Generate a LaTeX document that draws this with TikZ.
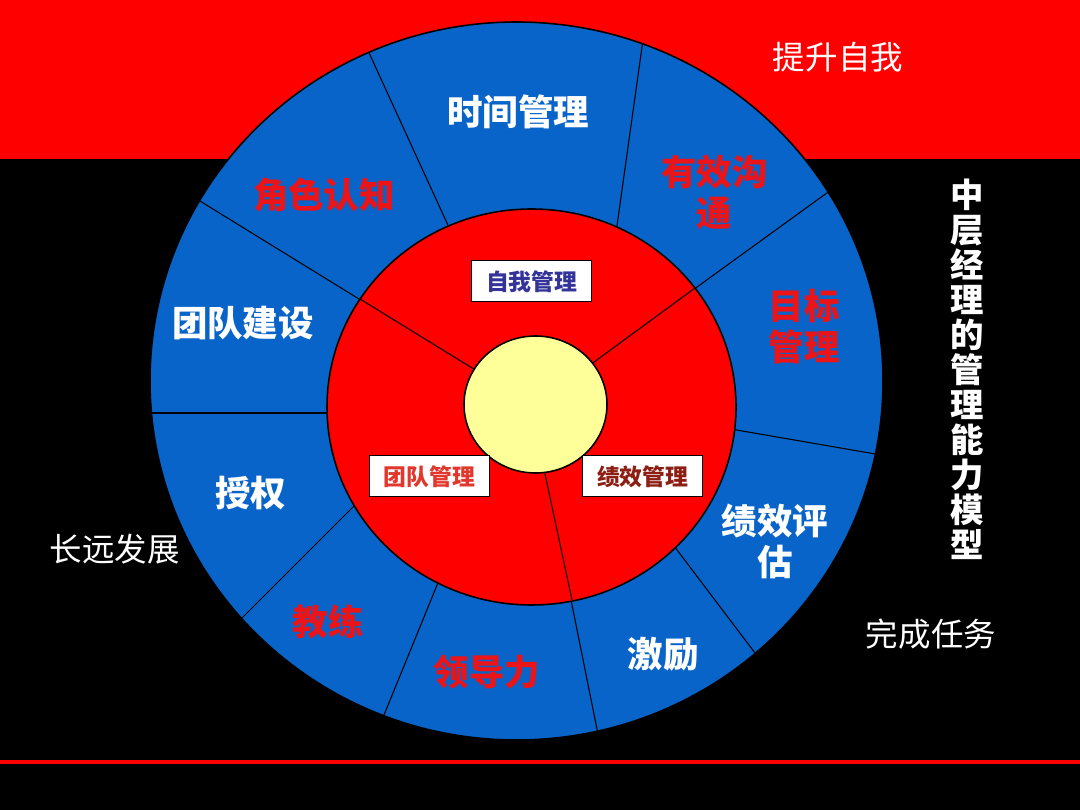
\documentclass[tikz,border=0pt]{standalone}
\usepackage{fontspec}
\setmainfont{Noto Sans CJK SC}
\definecolor{ringblue}{RGB}{8,100,200}
\definecolor{bandred}{RGB}{255,0,0}
\definecolor{lblred}{RGB}{235,20,25}
\definecolor{paleyellow}{RGB}{255,255,153}
\definecolor{navy}{RGB}{51,51,153}
\definecolor{boxred}{RGB}{225,55,45}
\definecolor{boxmaroon}{RGB}{140,30,20}
\begin{document}
\begin{tikzpicture}[x=0.02cm,y=-0.02cm,
  ringlbl/.style={font=\fontsize{20.2}{23.3}\selectfont\bfseries, align=center, inner sep=0pt},
  outerlbl/.style={font=\fontsize{18.5}{22}\selectfont, text=white, inner sep=0pt},
  boxlbl/.style={draw=black, fill=white, line width=0.7pt, minimum width=120*0.02cm, minimum height=41*0.02cm, inner sep=0pt, font=\fontsize{13}{15}\selectfont\bfseries},
  divider/.style={draw=black, line width=0.6pt}]
% background
\fill[black] (0,0) rectangle (1080,810);
\useasboundingbox (0,0) rectangle (1080,810);
\fill[bandred] (0,0) rectangle (1080,159);
\fill[bandred] (0,760) rectangle (1080,764);
% outer ring
\fill[ringblue] (516.5,381) ellipse [x radius=366.5, y radius=359];
\begin{scope}
  \clip (516.5,381) ellipse [x radius=366.5, y radius=359];
  \draw[divider] (452,234) -- (365.4,44.9);
  \draw[divider] (615,240) -- (643.5,36.3);
  \draw[divider] (675,303) -- (842,182);
  \draw[divider] (725,428) -- (883.3,455.4);
  \draw[divider] (668,538) -- (759.7,659.2);
  \draw[divider] (568,585) -- (601,749);
  \draw[divider] (442,573) -- (380.8,722.8);
  \draw[divider] (362,498) -- (235.4,624.6);
  \draw[divider] (345,413) -- (140,413);
  \draw[divider] (385,315) -- (183.7,191);
\end{scope}
\draw[black, line width=0.9pt] (516.5,381) ellipse [x radius=366.5, y radius=359];
% middle red disc
\filldraw[fill=bandred, draw=black, line width=0.9pt] (531.5,407) ellipse [x radius=204.5, y radius=198];
\draw[divider] (360,299) -- (490,379);
\draw[divider] (695,288) -- (575,376);
\draw[divider] (572,600) -- (542,460);
% yellow core
\filldraw[fill=paleyellow, draw=black, line width=0.9pt] (535.5,404.5) ellipse [x radius=71.5, y radius=68.5];
% boxes
\node[boxlbl, text=navy] (self) at (531.7,281.3) {自我管理};
\node[boxlbl, text=boxred] (team) at (429.3,476.3) {团队管理};
\node[boxlbl, text=boxmaroon] (perf) at (642.7,476.3) {绩效管理};
% ring labels
\node[ringlbl, text=white] (time) at (518,112) {时间管理};
\node[ringlbl, text=lblred] (comm) at (714.5,192.5) {有效沟\\通};
\node[ringlbl, text=lblred] (role) at (324,195) {角色认知};
\node[ringlbl, text=lblred] (goal) at (804,326.5) {目标\\管理};
\node[ringlbl, text=white] (build) at (243,323) {团队建设};
\node[ringlbl, text=white] (auth) at (251,493) {授权};
\node[ringlbl, text=white] (eval) at (775,541) {绩效评\\估};
\node[ringlbl, text=lblred] (coach) at (328,622) {教练};
\node[ringlbl, text=lblred] (lead) at (487,672) {领导力};
\node[ringlbl, text=white] (motiv) at (663,654) {激励};
% outer labels
\node[outerlbl] (up) at (838,57) {提升自我};
\node[outerlbl] (long) at (115,549) {长远发展};
\node[outerlbl] (task) at (931,634) {完成任务};
% vertical title
\node[font=\fontsize{19}{19.9}\selectfont\bfseries, text=white, align=center, inner sep=0pt] (title) at (967.5,369)
  {中\\层\\经\\理\\的\\管\\理\\能\\力\\模\\型};
\end{tikzpicture}
\end{document}
